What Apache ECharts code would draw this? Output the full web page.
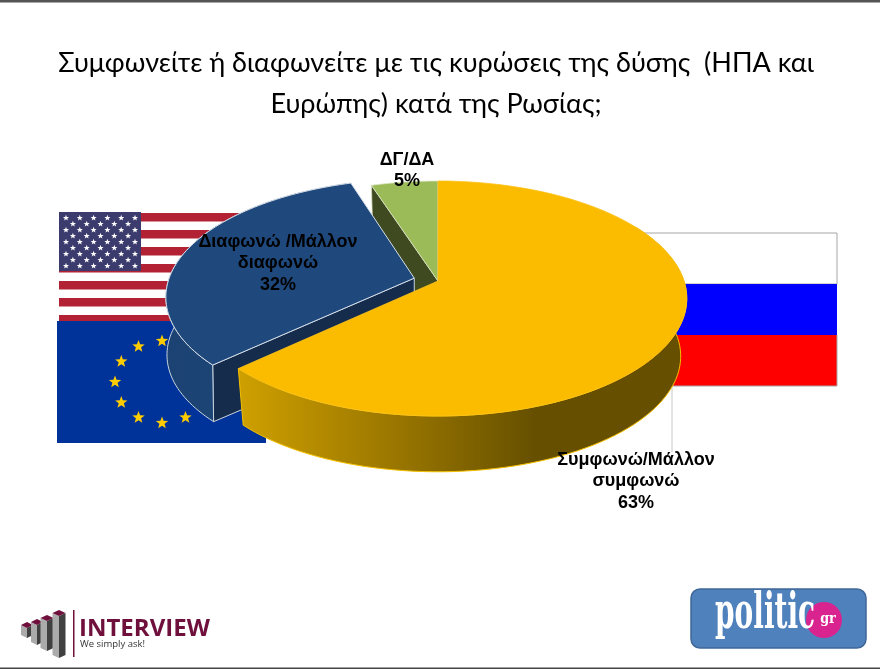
<!DOCTYPE html>
<html>
<head>
<meta charset="utf-8">
<style>
html,body{margin:0;padding:0;background:#fff;}
#main{width:880px;height:669px;}
</style>
<script src="https://cdn.jsdelivr.net/npm/echarts@6/dist/echarts.min.js"></script>
</head>
<body>
<div id="main"></div>
<script>
// data
var categories = ['Συμφωνώ/Μάλλον\nσυμφωνώ', 'Διαφωνώ /Μάλλον\nδιαφωνώ', 'ΔΓ/ΔΑ'];
var values = [63, 32, 5];
var explodes = [0, 0.1, 0];
var titleText = 'Συμφωνείτε ή διαφωνείτε με τις κυρώσεις της δύσης  (ΗΠΑ και\nΕυρώπης) κατά της Ρωσίας;';

// label anchors, same order as categories
var labelX = [636, 278, 407];
var labelY = [449, 231, 149];

// pie tilt: unit disc seen in perspective
var cx = 438, cy = 281, persp = 0.149;
var topA = 246, topB = 114.9;
var botA = [240, 245, 240], botB = 113, depth = 58;
var total = values[0] + values[1] + values[2];

function project(theta, slice, level) {
	var mid = sliceMid(slice);
	var u = Math.sin(theta) + Math.sin(mid) * explodes[slice];
	var v = -Math.cos(theta) - Math.cos(mid) * explodes[slice];
	var d = 1 - persp * v;
	if (level == 0) {
		return [cx + topA * u / d, cy + topB * v / d];
	}
	return [cx + botA[slice] * u / d, cy + depth + botB * v / d];
}
function sliceStart(i) {
	var s = 0;
	for (var j = 0; j < i; j++) s += values[j];
	return s / total * Math.PI * 2;
}
function sliceEnd(i) {
	return sliceStart(i) + values[i] / total * Math.PI * 2;
}
function sliceMid(i) {
	return (sliceStart(i) + sliceEnd(i)) / 2;
}
function rim(a0, a1, slice, level) {
	var pts = [];
	var n = 80;
	for (var i = 0; i <= n; i++) {
		pts.push(project(a0 + (a1 - a0) * i / n, slice, level));
	}
	return pts;
}
function apex(slice, level) {
	var mid = sliceMid(slice);
	var u = Math.sin(mid) * explodes[slice];
	var v = -Math.cos(mid) * explodes[slice];
	var d = 1 - persp * v;
	if (level == 0) return [cx + topA * u / d, cy + topB * v / d];
	return [cx + botA[slice] * u / d, cy + depth + botB * v / d];
}
function poly(points, fill, stroke, z2, lw) {
	return {
		type: 'polygon',
		z2: z2,
		shape: { points: points },
		style: { fill: fill, stroke: stroke || null, lineWidth: lw || 0 }
	};
}
function hGrad(stops) {
	return { type: 'linear', x: 0, y: 0, x2: 1, y2: 0, colorStops: stops };
}

function renderSlice(params, api) {
	var i = params.dataIndex;
	var a0 = sliceStart(i), a1 = sliceEnd(i);
	var topFace = [apex(i, 0)].concat(rim(a0, a1, i, 0));
	var kids = [];
	if (i == 0) {
		// yellow: outer wall then top
		var wallTop = rim(Math.PI / 3, a1, i, 0);
		var wallBot = rim(Math.PI / 3, a1, i, 1).reverse();
		kids.push(poly(wallTop.concat(wallBot), hGrad([
			{ offset: 0, color: '#CFA000' },
			{ offset: 0.42, color: '#8F6E00' },
			{ offset: 0.66, color: '#665000' },
			{ offset: 1, color: '#665000' }
		]), '#F5C000', 30, 1));
		kids.push(poly(topFace, '#FBBC00', '#FBC21A', 40, 0.8));
	} else if (i == 1) {
		// blue: cut wall, outer wall, top
		var p = rim(a0, a0, i, 0)[0], q = rim(a0, a0, i, 1)[0];
		kids.push(poly([apex(i, 0), p, q, apex(i, 1)], '#152C4C', '#C9D3DF', 20, 1));
		var wt = rim(a0, a1, i, 0);
		var wb = rim(a0, a1, i, 1).reverse();
		kids.push(poly(wt.concat(wb), hGrad([
			{ offset: 0, color: '#1B4272' },
			{ offset: 1, color: '#1F4A7C' }
		]), '#C9D3DF', 21, 1));
		kids.push(poly(topFace, '#1F497D', '#D5DDE7', 22, 1));
	} else {
		// green: cut wall, top
		var p2 = rim(a0, a0, i, 0)[0], q2 = rim(a0, a0, i, 1)[0];
		kids.push(poly([apex(i, 0), p2, q2, apex(i, 1)], '#3F4A20', '#D8DFC4', 10, 0.8));
		kids.push(poly(topFace, '#9BBB59', '#DDE6C8', 11, 0.8));
	}
	return { type: 'group', children: kids };
}

// flags behind the pie
function starPoints(x, y, r) {
	var pts = [];
	for (var i = 0; i < 10; i++) {
		var rr = i % 2 ? r * 0.42 : r;
		var a = i * Math.PI / 5;
		pts.push([x + rr * Math.sin(a), y - rr * Math.cos(a)]);
	}
	return pts;
}
function rect(x, y, w, h, fill, stroke) {
	return { type: 'rect', shape: { x: x, y: y, width: w, height: h }, style: { fill: fill, stroke: stroke || null, lineWidth: stroke ? 1 : 0 }, silent: true };
}
function star(x, y, r, fill) {
	return { type: 'polygon', shape: { points: starPoints(x, y, r) }, style: { fill: fill }, silent: true };
}
function txt(x, y, text, font, fill, align) {
	return { type: 'text', x: x, y: y, style: { text: text, font: font, fill: fill, textAlign: align || 'left', textVerticalAlign: 'top' }, silent: true };
}

var deco = [];
// usa
deco.push(rect(59, 212, 210, 110, '#fff'));
for (var s = 0; s < 7; s++) {
	deco.push(rect(59, 213 + s * 17, 210, 8.5, '#B22234'));
}
deco.push(rect(59, 212, 82, 59, '#3C3B6E'));
for (var r = 0; r < 9; r++) {
	var cnt = r % 2 ? 5 : 6;
	for (var c = 0; c < cnt; c++) {
		deco.push(star(66 + (r % 2 ? 6.9 : 0) + c * 13.8, 218 + r * 6, 3.2, '#fff'));
	}
}
// eu
deco.push(rect(57, 321, 209, 122, '#003399'));
for (var e = 0; e < 12; e++) {
	var ang = e * Math.PI / 6;
	deco.push(star(162 + 47 * Math.sin(ang), 382 - 41 * Math.cos(ang), 6.5, '#FFCC00'));
}
// russia
deco.push(rect(600, 233, 237, 51, '#fff', '#A6A6A6'));
deco.push(rect(600, 284, 237, 51, '#0000FF'));
deco.push(rect(600, 335, 237, 51, '#FF0000'));
deco.push({ type: 'line', shape: { x1: 837, y1: 335, x2: 837, y2: 386 }, style: { stroke: '#A6A6A6', lineWidth: 1 }, silent: true });
deco.push({ type: 'line', shape: { x1: 600, y1: 386, x2: 837, y2: 386 }, style: { stroke: '#A6A6A6', lineWidth: 1 }, silent: true });
// leader line of the yellow slice
deco.push({ type: 'line', shape: { x1: 672, y1: 387, x2: 672, y2: 452 }, style: { stroke: '#C8C8C8', lineWidth: 1 }, silent: true });
// page rules
deco.push(rect(0, 0, 880, 2.5, '#555555'));
deco.push(rect(0, 667.5, 880, 1.5, '#444444'));

// interview logo
var barX = [27, 37, 47, 59], barTop = [625, 622, 618, 613], barBot = [635, 642, 648, 655], barW = [6, 6, 6.5, 6.5];
for (var b = 0; b < barX.length; b++) {
	var bx = barX[b], bt = barTop[b], bb = barBot[b], bw = barW[b];
	deco.push({ type: 'polygon', shape: { points: [[bx - bw, bt], [bx, bt + 3], [bx, bb + 3], [bx - bw, bb]] }, style: { fill: '#ABABAB' }, silent: true });
	deco.push({ type: 'polygon', shape: { points: [[bx, bt + 3], [bx + bw, bt], [bx + bw, bb], [bx, bb + 3]] }, style: { fill: '#404040' }, silent: true });
	deco.push({ type: 'polygon', shape: { points: [[bx - bw, bt], [bx, bt - 3], [bx + bw, bt], [bx, bt + 3]] }, style: { fill: '#6E0F3C' }, silent: true });
}
deco.push(rect(73, 610, 1.5, 47, '#6E0F3C'));
deco.push(txt(79, 617, 'INTERVIEW', 'bold 24px "Open Sans"', '#6E0F3C'));
deco.push(txt(80, 639, 'We simply ask!', '9.5px "Open Sans"', '#333'));

// politic logo
deco.push({ type: 'rect', shape: { x: 691, y: 589, width: 175, height: 59, r: 9 }, style: { fill: '#4F81BD', stroke: '#3F6797', lineWidth: 1.5 }, silent: true });
deco.push({ type: 'circle', shape: { cx: 824, cy: 620, r: 18 }, style: { fill: '#D9248F' }, silent: true });
deco.push({ type: 'text', x: 715, y: 590, scaleX: 0.56, style: { text: 'politic', font: 'bold 50px "DejaVu Serif"', fill: '#fff', textVerticalAlign: 'top' }, silent: true });
deco.push({ type: 'text', x: 828, y: 619, scaleX: 0.85, style: { text: 'gr', font: 'bold 15px "DejaVu Serif"', fill: '#fff', textAlign: 'center', textVerticalAlign: 'middle' }, silent: true });

// slice labels on top of everything
for (var l = 0; l < categories.length; l++) {
	deco.push({
		type: 'text', x: labelX[l], y: labelY[l], z: 10, silent: true,
		style: {
			text: categories[l] + '\n' + values[l] + '%',
			font: 'bold 18px "Liberation Sans"',
			fill: '#000', textAlign: 'center', textVerticalAlign: 'top', lineHeight: 21.5
		}
	});
}

var myChart = echarts.init(document.getElementById('main'), null, { renderer: 'canvas' });
var option = {
	backgroundColor: '#fff',
	animation: false,
	title: {
		text: titleText,
		left: 431,
		top: 38,
		textAlign: 'center',
		textStyle: { color: '#000', fontFamily: 'Lato', fontWeight: 'normal', fontSize: 27, lineHeight: 41 }
	},
	graphic: { elements: deco },
	series: [{
		type: 'custom',
		coordinateSystem: 'none',
		z: 5,
		silent: true,
		renderItem: renderSlice,
		data: values
	}]
};
myChart.setOption(option);
</script>
</body>
</html>
